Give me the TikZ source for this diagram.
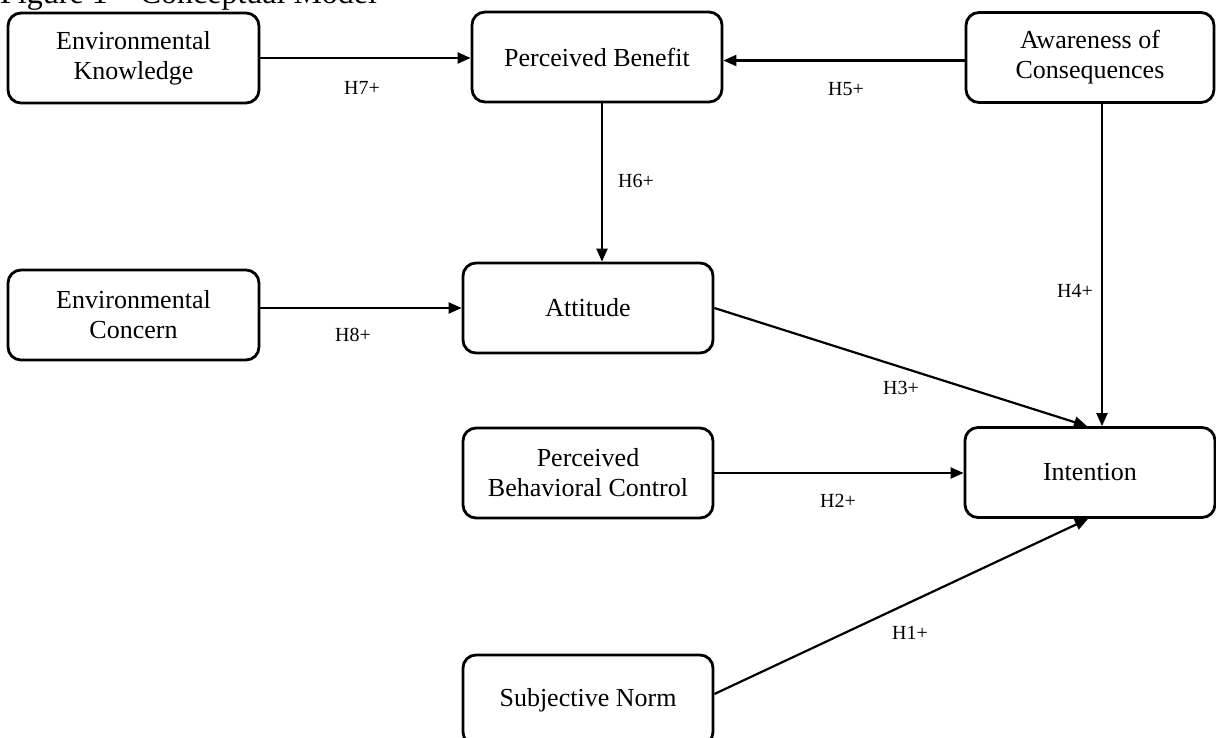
\documentclass[tikz,border=0pt]{standalone}
\usepackage{fontspec}
\setmainfont{Liberation Serif}
\usetikzlibrary{arrows.meta}
\begin{document}
\begin{tikzpicture}[x=1pt,y=-1pt,
  box/.style={draw, line width=2.8pt, rounded corners=13pt, minimum width=250pt, minimum height=90pt, align=center, font=\fontsize{26}{30}\selectfont, inner sep=0pt},
  arr/.style={line width=2.2pt, -{Triangle[length=13pt,width=11pt]}},
  lab/.style={font=\fontsize{20}{24}\selectfont, inner sep=0pt}]
\clip (0,0) rectangle (1216,737);
\node[anchor=base west, inner sep=0pt, font=\fontsize{32}{38}\selectfont] (title) at (0,3) {Figure 1 -- Conceptual Model};

\node[box, minimum width=251pt] (EK) at (133.5,58) {Environmental\\Knowledge};
\node[box] (PB) at (597,57) {Perceived Benefit};
\node[box, minimum width=248pt] (AC) at (1090,57.5) {Awareness of\\Consequences};
\node[box, minimum width=251pt] (EC) at (133.5,315) {Environmental\\Concern};
\node[box] (Att) at (588,308) {Attitude};
\node[box] (PBC) at (588,473) {Perceived\\Behavioral Control};
\node[box] (Int) at (1090,472.5) {Intention};
\node[box] (SN) at (588,700) {Subjective Norm};

\draw[arr] (EK.east) -- (PB.west |- EK.east);
\draw[arr] ([yshift=-3pt]AC.west) -- ([yshift=-3pt]AC.west -| PB.east);
\draw[arr] ([xshift=5pt]PB.south) -- ([xshift=5pt]PB.south |- Att.north);
\draw[arr] ([xshift=12pt]AC.south) -- ([xshift=12pt]AC.south |- Int.north);
\draw[arr] (EC.east |- Att.west) -- (Att.west);
\draw[arr] (Att.east) -- ([xshift=-3pt]Int.north);
\draw[arr] (PBC.east) -- (PBC.east -| Int.west);
\draw[arr] ([yshift=6pt]SN.east) -- ([xshift=-2pt]Int.south);

\node[lab] (h7) at (362,88) {H7+};
\node[lab] (h5) at (846,89) {H5+};
\node[lab] (h6) at (636,181) {H6+};
\node[lab] (h4) at (1075,291) {H4+};
\node[lab] (h8) at (353,335) {H8+};
\node[lab] (h3) at (901,388) {H3+};
\node[lab] (h2) at (838,501) {H2+};
\node[lab] (h1) at (910,633) {H1+};
\end{tikzpicture}
\end{document}
